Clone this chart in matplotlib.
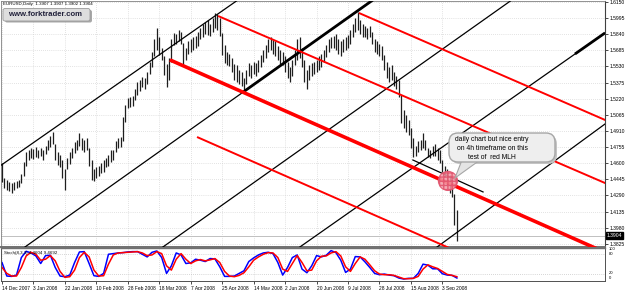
import numpy as np
import matplotlib
matplotlib.use("Agg")
import matplotlib.pyplot as plt
from matplotlib.patches import FancyBboxPatch, Polygon
from matplotlib.transforms import IdentityTransform, blended_transform_factory

# ---------------- data ----------------
highs = [1.460,1.446,1.444,1.442,1.441,1.442,1.443,1.444,1.450,1.461,
         1.471,1.473,1.475,1.474,1.476,1.473,1.475,1.473,1.477,1.482,
         1.486,1.490,1.478,1.471,1.468,1.463,1.454,1.465,1.471,1.475,
         1.480,1.482,1.489,1.484,1.482,1.484,1.475,1.463,1.454,1.456,
         1.457,1.460,1.463,1.465,1.468,1.473,1.473,1.481,1.484,1.485,
         1.504,1.516,1.523,1.524,1.525,1.531,1.538,1.540,1.543,1.542,
         1.548,1.557,1.567,1.579,1.590,1.581,1.571,1.563,1.555,1.561,
         1.579,1.585,1.584,1.588,1.586,1.576,1.571,1.577,1.579,1.581,
         1.582,1.586,1.590,1.594,1.596,1.598,1.594,1.600,1.604,1.603,
         1.600,1.585,1.574,1.567,1.565,1.561,1.555,1.554,1.550,1.548,
         1.542,1.550,1.556,1.554,1.557,1.556,1.559,1.564,1.569,1.574,
         1.579,1.581,1.579,1.577,1.573,1.569,1.567,1.563,1.557,1.552,
         1.559,1.569,1.579,1.581,1.571,1.559,1.550,1.554,1.556,1.557,
         1.559,1.563,1.565,1.569,1.574,1.579,1.581,1.582,1.584,1.579,
         1.577,1.579,1.581,1.583,1.588,1.594,1.600,1.605,1.598,1.594,
         1.592,1.590,1.592,1.586,1.579,1.577,1.575,1.573,1.564,1.557,
         1.552,1.554,1.548,1.544,1.540,1.526,1.511,1.506,1.502,1.494,
         1.484,1.477,1.481,1.482,1.489,1.482,1.475,1.473,1.477,1.478,
         1.475,1.473,1.463,1.457,1.454,1.449,1.444,1.430,1.415]
lows = [1.442,1.436,1.434,1.433,1.431,1.434,1.436,1.437,1.441,1.448,
        1.457,1.463,1.465,1.464,1.466,1.465,1.467,1.463,1.469,1.473,
        1.476,1.478,1.463,1.458,1.456,1.446,1.434,1.454,1.459,1.465,
        1.470,1.473,1.477,1.473,1.471,1.473,1.457,1.444,1.443,1.446,
        1.448,1.451,1.452,1.456,1.457,1.461,1.463,1.471,1.475,1.476,
        1.481,1.500,1.513,1.514,1.515,1.521,1.526,1.529,1.533,1.531,
        1.536,1.546,1.552,1.563,1.569,1.564,1.559,1.545,1.533,1.540,
        1.557,1.574,1.575,1.577,1.575,1.553,1.559,1.565,1.567,1.569,
        1.571,1.573,1.579,1.581,1.584,1.583,1.582,1.586,1.590,1.588,
        1.582,1.564,1.556,1.554,1.553,1.548,1.540,1.538,1.536,1.534,
        1.529,1.536,1.544,1.542,1.546,1.544,1.548,1.552,1.557,1.561,
        1.567,1.569,1.565,1.563,1.559,1.555,1.554,1.548,1.542,1.538,
        1.544,1.554,1.559,1.561,1.552,1.538,1.531,1.540,1.544,1.546,
        1.548,1.550,1.552,1.557,1.562,1.567,1.571,1.571,1.569,1.565,
        1.563,1.567,1.569,1.571,1.575,1.581,1.586,1.588,1.584,1.581,
        1.581,1.579,1.581,1.575,1.567,1.565,1.563,1.559,1.550,1.542,
        1.538,1.540,1.534,1.531,1.524,1.499,1.494,1.490,1.487,1.475,
        1.466,1.467,1.471,1.473,1.475,1.473,1.466,1.465,1.467,1.467,
        1.463,1.460,1.452,1.447,1.439,1.431,1.428,1.401,1.385]
last_price = 1.3904

stoch_k = [55,14,13,17,70,89,84,75,52,76,
           77,40,14,12,17,55,87,88,52,15,
           13,22,80,82,84,85,87,88,88,80,
           72,86,90,70,22,45,84,78,52,54,
           65,62,58,67,66,42,13,13,14,22,
           30,58,69,78,84,86,82,55,17,40,
           70,78,35,24,45,76,72,77,91,85,
           62,25,35,73,72,57,40,22,18,20,
           17,15,8,5,7,7,22,50,47,36,
           36,21,17,16,8]
stoch_d = [40,22,14,14,40,75,86,80,62,65,
           76,60,28,10,12,32,70,86,72,32,
           14,15,50,78,84,85,86,87,88,84,
           76,78,88,82,45,32,65,82,65,52,
           60,64,60,63,67,55,28,14,12,16,
           24,42,62,72,80,85,84,70,35,28,
           52,76,55,30,32,60,74,75,84,88,
           75,42,28,52,72,65,48,30,20,18,
           18,16,11,6,6,7,13,35,48,42,
           37,28,19,16,12]

date_labels = ["14 Dec 2007", "3 Jan 2008", "22 Jan 2008", "10 Feb 2008", "28 Feb 2008",
               "18 Mar 2008", "7 Apr 2008", "25 Apr 2008", "14 May 2008", "2 Jun 2008",
               "20 Jun 2008", "9 Jul 2008", "28 Jul 2008", "15 Aug 2008", "3 Sep 2008"]
price_levels = [1.6150, 1.5995, 1.5840, 1.5685, 1.5530, 1.5375, 1.5220, 1.5065,
                1.4910, 1.4755, 1.4600, 1.4445, 1.4290, 1.4135, 1.3980, 1.3825]
stoch_levels = [100, 80, 20, 0]

# trend line anchors (bar index, price)
black_lines = [(-0.8, 1.4574, 97.5, 1.6169),
               (9.5, 1.3795, 153.3, 1.6169),
               (66.5, 1.3795, 210.7, 1.6169),
               (123.1, 1.3795, 249.2, 1.5852),
               (179.8, 1.3795, 249.2, 1.4977)]
black_thick = [(99.6, 1.5283, 153.3, 1.6169),
               (236.8, 1.5650, 249.2, 1.5852)]
red_thin = [(147.5, 1.6044, 249.2, 1.5016),
            (89.3, 1.6015, 249.2, 1.4410),
            (80.6, 1.4852, 183.9, 1.3795)]
red_thick = [(69.4, 1.5593, 244.2, 1.3795)]
test_line = (169.8, 1.4631, 198.8, 1.4324)
touch_point = (184.3, 1.4430)

# ---------------- figure ----------------
W, H = 625, 290
fig = plt.figure(figsize=(W / 100, H / 100), dpi=100)
fig.patch.set_facecolor("white")

def rect(l, t, r, b):
    return [l / W, 1 - b / H, (r - l) / W, (b - t) / H]

FONT = ["Liberation Sans", "DejaVu Sans"]
ax = fig.add_axes(rect(1, 1, 605, 247))
axs = fig.add_axes(rect(1, 248, 605, 281))

n = len(highs)
bars = np.arange(n)
xlim = (-0.41, 249.2)

# grid
label_bars = [13 * k for k in range(len(date_labels))]
for lv in price_levels:
    ax.axhline(lv, color="#c8c8c8", lw=0.5, ls=(0, (1, 2)), zorder=0)
for b in label_bars:
    ax.axvline(b, color="#c8c8c8", lw=0.5, ls=(0, (1, 2)), zorder=0)
    axs.axvline(b, color="#c8c8c8", lw=0.5, ls=(0, (1, 2)), zorder=0)

# bid line
ax.axhline(last_price, color="#c0c0c0", lw=0.7, zorder=1)

# price bars
ax.vlines(bars, lows, highs, colors="#1e1e1e", linewidth=0.9, zorder=3)

# pitchfork lines
for (b1, p1, b2, p2) in black_lines:
    ax.axline((b1, p1), (b2, p2), color="black", lw=0.9, zorder=4)
for (b1, p1, b2, p2) in black_thick:
    ax.plot([b1, b2], [p1, p2], color="black", lw=2.0, zorder=4, solid_capstyle="butt")

def ray(b1, p1, b2, p2, **kw):
    b3 = b1 + 1.6 * (b2 - b1)
    p3 = p1 + 1.6 * (p2 - p1)
    ax.plot([b1, b3], [p1, p3], **kw)

for seg in red_thin:
    ray(*seg, color="#ff0000", lw=1.4, zorder=4, solid_capstyle="butt")
for seg in red_thick:
    ray(*seg, color="#ff0000", lw=2.6, zorder=4, solid_capstyle="butt")
ax.plot([test_line[0], test_line[2]], [test_line[1], test_line[3]], color="black", lw=0.9, zorder=4)

# touch marker
ax.scatter([touch_point[0]], [touch_point[1]], s=190, facecolor="#f49aa6",
           edgecolor="#e0506a", linewidth=0.8, alpha=0.85, zorder=6, hatch="++++")

ax.set_xlim(*xlim)
ax.set_ylim(1.3795, 1.6159)
ax.set_xticks([])
ax.yaxis.tick_right()
ax.set_yticks(price_levels)
ax.set_yticklabels([f"{v:.4f}" for v in price_levels], fontsize=3.6, family=FONT)
ax.tick_params(axis="y", length=2, width=0.5, pad=1, colors="black")
for s in ["left", "top"]:
    ax.spines[s].set_color("#808080")
    ax.spines[s].set_linewidth(0.6)
ax.spines["right"].set_color("#404040")
ax.spines["right"].set_linewidth(0.8)
ax.spines["bottom"].set_color("#707070")
ax.spines["bottom"].set_linewidth(1.4)

# last price marker on axis
bt = blended_transform_factory(ax.transAxes, ax.transData)
ax.text(1.003, last_price, "1.3904", transform=bt, fontsize=3.6, family=FONT,
        color="white", va="center", ha="left",
        bbox=dict(facecolor="black", edgecolor="black", pad=0.8), zorder=10, clip_on=False)

# texts top-left
fig.text(3 / W, 1 - 4.5 / H, "EURUSD,Daily  1.3907 1.3907 1.3902 1.3904", fontsize=3.2,
         family=FONT, va="center", ha="left", color="black")
logo_sh = FancyBboxPatch((5, H - 22.5), 87, 12.5, boxstyle="round,pad=0,rounding_size=2",
                         transform=IdentityTransform(), facecolor="#a8a8a8", edgecolor="none")
logo = FancyBboxPatch((3, H - 21), 87, 12.5, boxstyle="round,pad=0,rounding_size=2",
                      transform=IdentityTransform(), facecolor="#dedede", edgecolor="#9a9a9a",
                      linewidth=0.6)
fig.patches.extend([logo_sh, logo])
fig.text(45 / W, 1 - 14.3 / H, "www.forktrader.com", fontsize=5.6, fontweight="bold",
         family=FONT, color="#20203a", va="center", ha="center")

# callout
shadow = FancyBboxPatch((451, H - 164), 106, 29, boxstyle="round,pad=0,rounding_size=9",
                        transform=IdentityTransform(), facecolor="#c4c4c4", edgecolor="none")
box = FancyBboxPatch((449, H - 162), 106, 29, boxstyle="round,pad=0,rounding_size=9",
                     transform=IdentityTransform(), facecolor="#eeeeee", edgecolor="#a6a6a6",
                     linewidth=1.0)
tail = Polygon([(462, H - 160), (480, H - 160), (455, H - 178)], closed=True,
               transform=IdentityTransform(), facecolor="#e4e4e4", edgecolor="#a6a6a6",
               linewidth=0.8)
fig.patches.extend([shadow, tail, box])
for txt, yy in [("daily chart but nice entry", 139.5), ("on 4h timeframe on this", 148.5),
                ("test of  red MLH", 157.2)]:
    fig.text(492 / W, 1 - yy / H, txt, fontsize=4.9, family=FONT, color="black",
             va="center", ha="center")

# ---------------- stochastic ----------------
sx = np.arange(0, n, 2)
axs.axhline(80, color="#b0b0b0", lw=0.5, ls=(0, (1, 2)))
axs.axhline(20, color="#b0b0b0", lw=0.5, ls=(0, (1, 2)))
axs.plot(sx, stoch_k, color="#0000ff", lw=1.1)
axs.plot(sx, stoch_d, color="#ff0000", lw=1.1)
axs.set_xlim(*xlim)
axs.set_ylim(-1, 99)
axs.set_yticks([])
axs.set_xticks(label_bars)
axs.set_xticklabels(date_labels, fontsize=3.5, family=FONT, ha="left")
axs.tick_params(axis="x", length=2, width=0.5, pad=1.5)
for s in axs.spines.values():
    s.set_color("#505050")
    s.set_linewidth(0.7)
axs.spines["top"].set_color("#707070")
axs.spines["top"].set_linewidth(1.0)
axs.text(0.005, 0.86, "Stoch(8,3,3) 4.4604 9.4692", transform=axs.transAxes, fontsize=3.2,
         family=FONT, va="center", ha="left")
# level labels on the right, placed just under their levels as in the terminal
bt2 = blended_transform_factory(axs.transAxes, axs.transData)
for lv, ypos in zip(stoch_levels, [95, 80, 24, 9]):
    axs.text(1.006, ypos, str(lv), transform=bt2, fontsize=3.0, family=FONT, va="center",
             ha="left", clip_on=False)

fig.savefig("out.png", dpi=100, facecolor="white")
